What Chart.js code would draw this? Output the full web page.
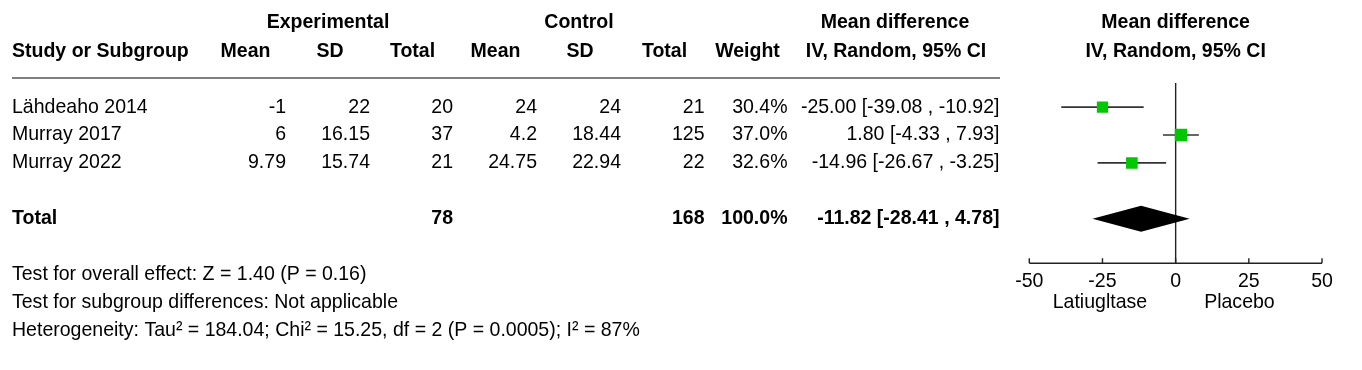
<!DOCTYPE html>
<html>
<head>
<meta charset="utf-8">
<script src="https://cdn.jsdelivr.net/npm/chart.js@4/dist/chart.umd.min.js"></script>
<style>
  html, body { margin: 0; padding: 0; background: #ffffff; }
  #wrap { width: 1362px; height: 370px; }
</style>
</head>
<body>
<div id="wrap"><canvas id="c" width="1362" height="370"></canvas></div>
<script>
// ---- data ----
const studies   = ['Lähdeaho 2014', 'Murray 2017', 'Murray 2022'];
const expMean   = [-1, 6, 9.79];
const expSD     = [22, 16.15, 15.74];
const expTotal  = [20, 37, 21];
const ctlMean   = [24, 4.2, 24.75];
const ctlSD     = [24, 18.44, 22.94];
const ctlTotal  = [21, 125, 22];
const weights   = [30.4, 37.0, 32.6];
const meanDiff  = [-25.00, 1.80, -14.96];
const ciLow     = [-39.08, -4.33, -26.67];
const ciHigh    = [-10.92, 7.93, -3.25];
const pooledTotals = [78, 168];
const pooledWeight = 100.0;
const pooledMD  = [-11.82, -28.41, 4.78]; // estimate, low, high
const axisTicks = [-50, -25, 0, 25, 50];
const favours   = ['Latiugltase', 'Placebo'];
const footer    = [
  'Test for overall effect: Z = 1.40 (P = 0.16)',
  'Test for subgroup differences: Not applicable',
  'Heterogeneity: Tau\u00B2 = 184.04; Chi\u00B2 = 15.25, df = 2 (P = 0.0005); I\u00B2 = 87%'
];

// ---- layout / style ----
const FONT = 'Arial, "Liberation Sans", Helvetica, sans-serif';
const REG = '20.6px ' + FONT;
const BOLD = 'bold 20.6px ' + FONT;
const SX = 0.948;            // horizontal squeeze of the reference glyphs
const TOTAL_ROW = 4;
const colRight = { expMean: 286, expSD: 370, expTotal: 453, ctlMean: 537, ctlSD: 621, ctlTotal: 704.5, weight: 787.5, ci: 999.5 };
const fmtCI = (m, l, h) => `${m.toFixed(2)} [${l.toFixed(2)} , ${h.toFixed(2)}]`;

function txt(ctx, s, x, y, align, font) {
  ctx.save();
  ctx.font = font;
  ctx.textAlign = align;
  ctx.textBaseline = 'alphabetic';
  ctx.fillStyle = '#000';
  ctx.translate(x, y);
  ctx.scale(SX, 1);
  ctx.fillText(s, 0, 0);
  ctx.restore();
}

const forestPlugin = {
  id: 'forest',
  beforeDatasetsDraw(chart) {
    const { ctx, chartArea, scales: { x } } = chart;
    const x0 = x.getPixelForValue(0);
    ctx.save();
    ctx.strokeStyle = '#222';
    ctx.lineWidth = 1.4;
    ctx.beginPath();
    ctx.moveTo(x0, chartArea.top);
    ctx.lineTo(x0, chartArea.bottom);
    ctx.stroke();
    ctx.restore();
  },
  afterDatasetsDraw(chart) {
    const { ctx, chartArea, scales: { x, y } } = chart;
    ctx.save();
    // pooled diamond
    const yc = y.getPixelForValue(TOTAL_ROW);
    const half = 13;
    ctx.fillStyle = '#000';
    ctx.beginPath();
    ctx.moveTo(x.getPixelForValue(pooledMD[1]), yc);
    ctx.lineTo(x.getPixelForValue(pooledMD[0]), yc - half);
    ctx.lineTo(x.getPixelForValue(pooledMD[2]), yc);
    ctx.lineTo(x.getPixelForValue(pooledMD[0]), yc + half);
    ctx.closePath();
    ctx.fill();

    // header rule
    ctx.strokeStyle = '#555';
    ctx.lineWidth = 1.6;
    ctx.beginPath();
    ctx.moveTo(12, 78);
    ctx.lineTo(1000, 78);
    ctx.stroke();

    // axis
    const yb = chartArea.bottom;
    const xa = x.getPixelForValue(axisTicks[0]);
    const xb = x.getPixelForValue(axisTicks[axisTicks.length - 1]);
    ctx.strokeStyle = '#222';
    ctx.lineWidth = 1.4;
    ctx.beginPath();
    ctx.moveTo(xa, yb);
    ctx.lineTo(xb, yb);
    axisTicks.forEach(t => {
      const px = x.getPixelForValue(t);
      ctx.moveTo(px, yb - 5);
      ctx.lineTo(px, yb);
    });
    ctx.stroke();
    axisTicks.forEach(t => txt(ctx, String(t), x.getPixelForValue(t), 286.5, 'center', REG));
    const x0 = x.getPixelForValue(0);
    txt(ctx, favours[0], x0 - 28.5, 307.5, 'right', REG);
    txt(ctx, favours[1], x0 + 28.5, 307.5, 'left', REG);

    // headers
    txt(ctx, 'Experimental', 328, 28.3, 'center', BOLD);
    txt(ctx, 'Control', 579, 28.3, 'center', BOLD);
    txt(ctx, 'Mean difference', 895, 28.3, 'center', BOLD);
    txt(ctx, 'Mean difference', x0, 28.3, 'center', BOLD);
    txt(ctx, 'Study or Subgroup', 12, 57.3, 'left', BOLD);
    [['Mean', 245.5], ['SD', 330], ['Total', 412.5], ['Mean', 495.5], ['SD', 580],
     ['Total', 664.5], ['Weight', 747.5], ['IV, Random, 95% CI', 896]]
      .forEach(([s, cx]) => txt(ctx, s, cx, 57.3, 'center', BOLD));
    txt(ctx, 'IV, Random, 95% CI', x0, 57.3, 'center', BOLD);

    // study rows
    studies.forEach((s, i) => {
      const py = y.getPixelForValue(i) + 5.5;
      txt(ctx, s, 12, py, 'left', REG);
      txt(ctx, String(expMean[i]), colRight.expMean, py, 'right', REG);
      txt(ctx, String(expSD[i]), colRight.expSD, py, 'right', REG);
      txt(ctx, String(expTotal[i]), colRight.expTotal, py, 'right', REG);
      txt(ctx, String(ctlMean[i]), colRight.ctlMean, py, 'right', REG);
      txt(ctx, String(ctlSD[i]), colRight.ctlSD, py, 'right', REG);
      txt(ctx, String(ctlTotal[i]), colRight.ctlTotal, py, 'right', REG);
      txt(ctx, weights[i].toFixed(1) + '%', colRight.weight, py, 'right', REG);
      txt(ctx, fmtCI(meanDiff[i], ciLow[i], ciHigh[i]), colRight.ci, py, 'right', REG);
    });

    // total row
    const ty = y.getPixelForValue(TOTAL_ROW) + 5.5;
    txt(ctx, 'Total', 12, ty, 'left', BOLD);
    txt(ctx, String(pooledTotals[0]), colRight.expTotal, ty, 'right', BOLD);
    txt(ctx, String(pooledTotals[1]), colRight.ctlTotal, ty, 'right', BOLD);
    txt(ctx, pooledWeight.toFixed(1) + '%', colRight.weight, ty, 'right', BOLD);
    txt(ctx, fmtCI(pooledMD[0], pooledMD[1], pooledMD[2]), colRight.ci, ty, 'right', BOLD);

    // footer
    footer.forEach((f, i) => txt(ctx, f, 12, 280 + i * 28.1, 'left', REG));
    ctx.restore();
  }
};

const squareRadius = ctx => (2 * Math.sqrt(weights[ctx.dataIndex]) + 0.2) / Math.SQRT2;
const datasets = [
  {
    type: 'scatter',
    label: 'Mean difference',
    data: meanDiff.map((v, i) => ({ x: v, y: i })),
    pointStyle: 'rect',
    backgroundColor: '#00c800',
    borderColor: '#00c800',
    borderWidth: 0,
    pointRadius: squareRadius,
    pointHoverRadius: squareRadius
  }
];
studies.forEach((s, i) => {
  datasets.push({
    type: 'line',
    label: s + ' CI',
    data: [{ x: ciLow[i], y: i }, { x: ciHigh[i], y: i }],
    borderColor: '#333',
    borderWidth: 1.7,
    pointRadius: 0,
    fill: false
  });
});

new Chart(document.getElementById('c'), {
  type: 'scatter',
  data: { datasets },
  options: {
    responsive: false,
    animation: false,
    events: [],
    layout: { padding: { left: 1029.3, right: 40, top: 83, bottom: 106.7 } },
    plugins: { legend: { display: false }, tooltip: { enabled: false } },
    scales: {
      x: { type: 'linear', min: -50, max: 50, display: false },
      y: { type: 'linear', min: -0.86, max: 5.59, reverse: true, display: false }
    }
  },
  plugins: [forestPlugin]
});
</script>
</body>
</html>
